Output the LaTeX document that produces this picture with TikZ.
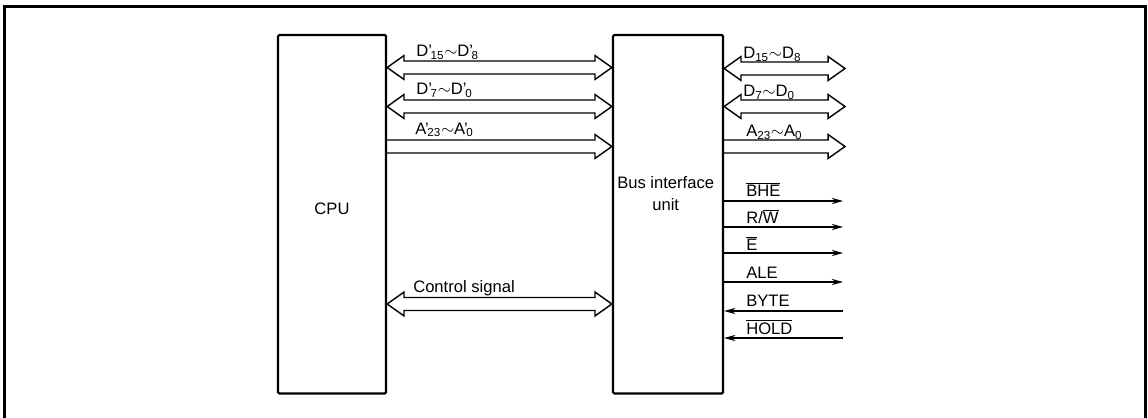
\documentclass[tikz,border=0pt]{standalone}
\usepackage{fontspec}
\setmainfont{Liberation Sans}
\usepackage{tikz}
\usetikzlibrary{arrows.meta,calc}
% prime before a subscript
\newcommand{\prsub}[1]{’\kern-0.08em\textsubscript{#1}}
\newcommand{\ovl}[1]{$\overline{\mbox{#1}}$}
\tikzset{
    outerframe/.style={
        line width=2.2pt,
    },
    unit/.style={
        rectangle,
        draw,
        line width=1.6pt,
        minimum width=2.7cm,
        minimum height=8.9625cm,
        align=center,
        inner sep=0pt,
        rounded corners=1pt,
    },
    lbl/.style={
        anchor=base west,
        inner sep=0pt,
    },
    bustwo/.style={
        line width=1pt,
        to path={let \p1=(\tikztostart), \p2=(\tikztotarget) in
            (\x1,\y1) -- (\x1+12pt,\y1+8.5pt) -- (\x1+12pt,\y1+4.6pt)
            -- (\x2-12pt,\y1+4.6pt) -- (\x2-12pt,\y1+8.5pt) -- (\x2,\y1)
            -- (\x2-12pt,\y1-8.5pt) -- (\x2-12pt,\y1-4.6pt)
            -- (\x1+12pt,\y1-4.6pt) -- (\x1+12pt,\y1-8.5pt) -- cycle},
    },
    busone/.style={
        line width=1pt,
        to path={let \p1=(\tikztostart), \p2=(\tikztotarget) in
            (\x1,\y1+4.6pt) -- (\x2-12pt,\y1+4.6pt) -- (\x2-12pt,\y1+8.5pt)
            -- (\x2,\y1) -- (\x2-12pt,\y1-8.5pt) -- (\x2-12pt,\y1-4.6pt)
            -- (\x1,\y1-4.6pt)},
    },
    sig/.style={
        -{Stealth[length=8pt,width=4.4pt,inset=2.5pt]},
        line width=0.8pt,
    },
}

\begin{document}
\begin{tikzpicture}[x=0.025cm, y=-0.025cm, font=\fontsize{11.8}{15}\selectfont]
    \useasboundingbox (0,0) rectangle (1148,418);

    % Outer frame
    \draw[outerframe] (4.5,6.5) rectangle (1145.5,440);

    % CPU
    \node[unit] (cpu) at (332,214.25) {\smash{CPU}};

    % Bus interface unit
    \node[unit, minimum width=2.75cm] (biu) at (668,214.25) {
        \smash{\raisebox{10.5pt}{\begin{tabular}{@{}c@{}}Bus interface\\unit\end{tabular}}}
    };

    % Connection points
    \foreach \y/\n in {67.5/a,106.5/b,146.5/c,304/d} {
        \coordinate (cpu\n) at (cpu.east |- 0,\y);
        \coordinate (biul\n) at (biu.west |- 0,\y);
    }
    \foreach \y/\n in {68.5/a,106.5/b,146.5/c} {
        \coordinate (biur\n) at (biu.east |- 0,\y);
        \coordinate (out\n) at (845,\y);
    }
    \foreach \y/\n in {201/e,227/f,253/g,282/h,311/i,338/j} {
        \coordinate (biur\n) at (biu.east |- 0,\y);
        \coordinate (out\n) at (843,\y);
    }

    % CPU <-> BIU
    \draw[bustwo] (cpua) to (biula);
    \draw[bustwo] (cpub) to (biulb);
    \draw[busone] (cpuc) to (biulc);
    \draw[bustwo] (cpud) to (biuld);

    % External bus
    \draw[bustwo] (biura) to (outa);
    \draw[bustwo] (biurb) to (outb);
    \draw[busone] (biurc) to (outc);

    % Control lines
    \draw[sig] (biure) -- (oute);
    \draw[sig] (biurf) -- (outf);
    \draw[sig] (biurg) -- (outg);
    \draw[sig] (biurh) -- (outh);
    \draw[sig] (outi) -- (biuri);
    \draw[sig] (outj) -- (biurj);

    % Labels
    \node[lbl] (ldhi) at (416,56.5) {D\prsub{15}$\sim$D\prsub{8}};
    \node[lbl] (ldlo) at (416,95) {D\prsub{7}$\sim$D\prsub{0}};
    \node[lbl] (ladr) at (415,134.3) {A\prsub{23}$\sim$A\prsub{0}};
    \node[lbl] (lctl) at (413,292.7) {Control signal};

    \node[lbl] (rdhi) at (743,58.5) {D\textsubscript{15}$\sim$D\textsubscript{8}};
    \node[lbl] (rdlo) at (743,97) {D\textsubscript{7}$\sim$D\textsubscript{0}};
    \node[lbl] (radr) at (746,136.5) {A\textsubscript{23}$\sim$A\textsubscript{0}};
    \node[lbl] (rbhe) at (746,197) {\ovl{BHE}};
    \node[lbl] (rrw) at (746,224) {R/\ovl{W}};
    \node[lbl] (re) at (746,250.7) {\ovl{E}};
    \node[lbl] (rale) at (746,279) {ALE};
    \node[lbl] (rbyte) at (746,306.5) {BYTE};
    \node[lbl] (rhold) at (746,334) {\ovl{HOLD}};
\end{tikzpicture}
\end{document}
